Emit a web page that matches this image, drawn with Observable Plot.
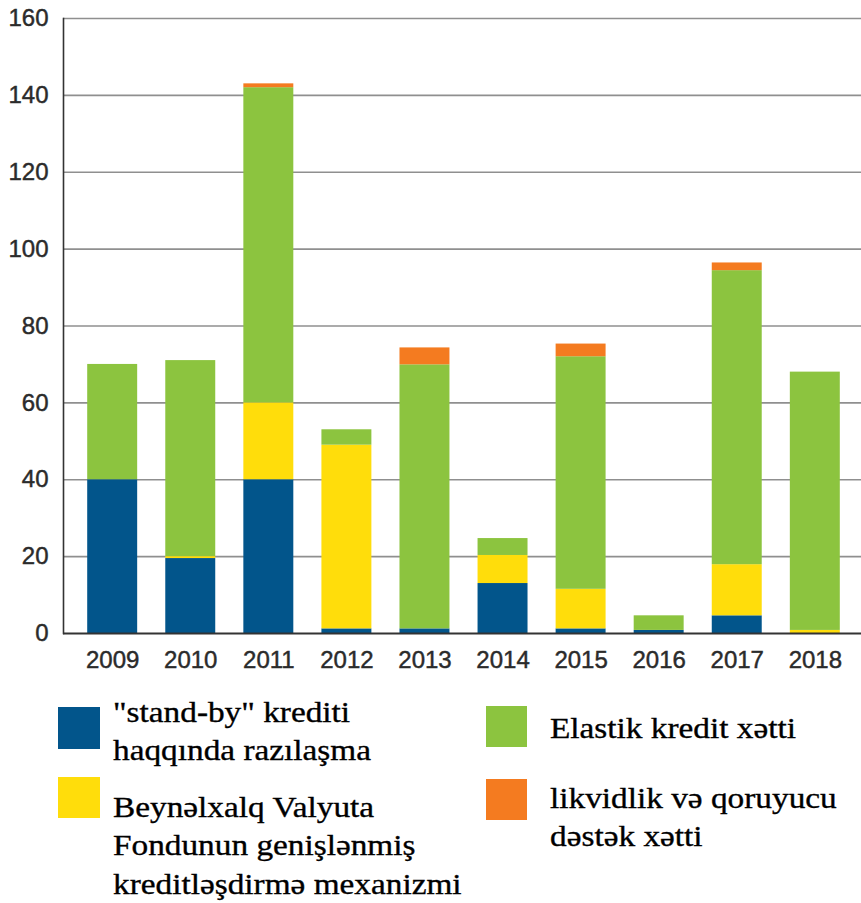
<!DOCTYPE html>
<html>
<head>
<meta charset="utf-8">
<script src="https://cdn.jsdelivr.net/npm/d3@7"></script>
<script src="https://cdn.jsdelivr.net/npm/@observablehq/plot@0.6"></script>
<style>
  html, body { margin: 0; padding: 0; background: #fff; }
  #wrap { position: relative; width: 861px; height: 903px; overflow: hidden; }
  #chart { position: absolute; left: 0; top: 0; }
  #chart svg text { stroke: #2b2b2b; stroke-width: 0.45px; }
  .sw { position: absolute; }
  .lt { position: absolute; font-family: "Liberation Serif", "Times New Roman", serif; font-size: 30px;
        line-height: 38.8px; color: #000; white-space: nowrap; transform: scaleX(1.11); transform-origin: 0 0;
        -webkit-text-stroke: 0.35px #000; }
</style>
</head>
<body>
<div id="wrap">
  <div id="chart"></div>
  <div id="legend"></div>
</div>
<script>
const years = ["2009","2010","2011","2012","2013","2014","2015","2016","2017","2018"];
const seriesNames = [
  "\"stand-by\" krediti haqqında razılaşma",
  "Beynəlxalq Valyuta Fondunun genişlənmiş kreditləşdirmə mexanizmi",
  "Elastik kredit xətti",
  "likvidlik və qoruyucu dəstək xətti"
];
const legendLines = [
  ["\"stand-by\" krediti", "haqqında razılaşma"],
  ["Beynəlxalq Valyuta", "Fondunun genişlənmiş", "kreditləşdirmə mexanizmi"],
  ["Elastik kredit xətti"],
  ["likvidlik və qoruyucu", "dəstək xətti"]
];
const standBy   = [40, 19.5, 40, 1.2, 1.2, 13, 1.2, 0.8, 4.6, 0];
const extended  = [0, 0.5, 20, 47.8, 0, 7.3, 10.3, 0, 13.3, 0.8];
const flexible  = [30, 51, 82, 4, 68.7, 4.4, 60.5, 3.8, 76.5, 67.2];
const liquidity = [0, 0, 1, 0, 4.4, 0, 3.3, 0, 2, 0];
const yTicks = [0, 20, 40, 60, 80, 100, 120, 140, 160];
const colors = ["#02558b", "#ffdd0b", "#8cc43f", "#f47b20"];

const seriesValues = [standBy, extended, flexible, liquidity];
const data = [];
years.forEach((y, i) => {
  seriesNames.forEach((s, j) => data.push({year: y, series: s, value: seriesValues[j][i]}));
});

const chart = Plot.plot({
  width: 861,
  height: 690,
  marginTop: 18,
  marginBottom: 57,
  marginLeft: 63,
  marginRight: 0,
  style: {fontFamily: "'Liberation Sans', Arial, sans-serif", fontSize: "24px", color: "#2b2b2b", background: "#fff"},
  x: {domain: years, range: [63, 864], paddingInner: 0.36, paddingOuter: 0.31, round: false, label: null},
  y: {domain: [0, 160], label: null},
  color: {domain: seriesNames, range: colors},
  marks: [
    Plot.ruleY(yTicks.filter(d => d > 0), {stroke: "#8f8f8f", strokeWidth: 1.6}),
    Plot.barY(data, {x: "year", y: "value", fill: "series"}),
    Plot.ruleY([0], {stroke: "#333", strokeWidth: 2}),
    Plot.frame({anchor: "left", stroke: "#333", strokeWidth: 1.6}),
    Plot.axisY({ticks: yTicks, tickSize: 0, tickPadding: 15, label: null, fontSize: 24}),
    Plot.axisX({tickSize: 0, tickPadding: 17, label: null, fontSize: 24})
  ]
});
document.getElementById("chart").appendChild(chart);

// legend (HTML, below the SVG)
const legend = document.getElementById("legend");
const swatches = [
  {x: 58, y: 707, w: 42, h: 42},
  {x: 58, y: 777, w: 42, h: 41},
  {x: 486, y: 706, w: 41, h: 41},
  {x: 486, y: 779, w: 41, h: 41}
];
const textPos = [
  {x: 113, y: 692.6},
  {x: 113, y: 787.5},
  {x: 550, y: 708.6},
  {x: 550, y: 778.6}
];
seriesNames.forEach((s, i) => {
  const sw = document.createElement("div");
  sw.className = "sw";
  Object.assign(sw.style, {left: swatches[i].x + "px", top: swatches[i].y + "px",
    width: swatches[i].w + "px", height: swatches[i].h + "px", background: colors[i]});
  legend.appendChild(sw);
  const t = document.createElement("div");
  t.className = "lt";
  t.style.left = textPos[i].x + "px";
  t.style.top = textPos[i].y + "px";
  t.innerHTML = legendLines[i].map(l => l.replace(/&/g, "&amp;").replace(/</g, "&lt;")).join("<br>");
  legend.appendChild(t);
});
</script>
</body>
</html>
